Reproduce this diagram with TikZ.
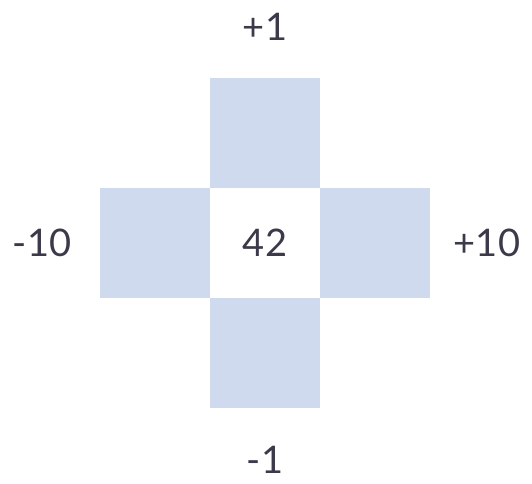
\documentclass[tikz,border=0pt]{standalone}
\usepackage{fontspec}
\setmainfont{Lato}
\definecolor{cellblue}{HTML}{CFDAEE}
\definecolor{txt}{HTML}{3A3A4A}
\begin{document}
\begin{tikzpicture}[x=1pt,y=1pt,
  cell/.style={fill=cellblue,draw=none,minimum size=110pt,inner sep=0pt,anchor=center},
  centercell/.style={fill=white,draw=none,minimum size=110pt,inner sep=0pt},
  lbl/.style={text=txt,font=\fontsize{38}{38}\selectfont,inner sep=0pt,anchor=center}]
\useasboundingbox[fill=white] (0,0) rectangle (532,483);
\node[cell] (top) at (265,350) {};
\node[cell] (left) at (155,240) {};
\node[centercell,lbl] (mid) at (265,240) {42};
\node[cell] (right) at (375,240) {};
\node[cell] (bot) at (265,130) {};
\node[lbl] (lt) at (265,456) {+1};
\node[lbl] (lb) at (265,23) {-1};
\node[lbl] (ll) at (42,240) {-10};
\node[lbl] (lr) at (487,240) {+10};
\end{tikzpicture}
\end{document}
